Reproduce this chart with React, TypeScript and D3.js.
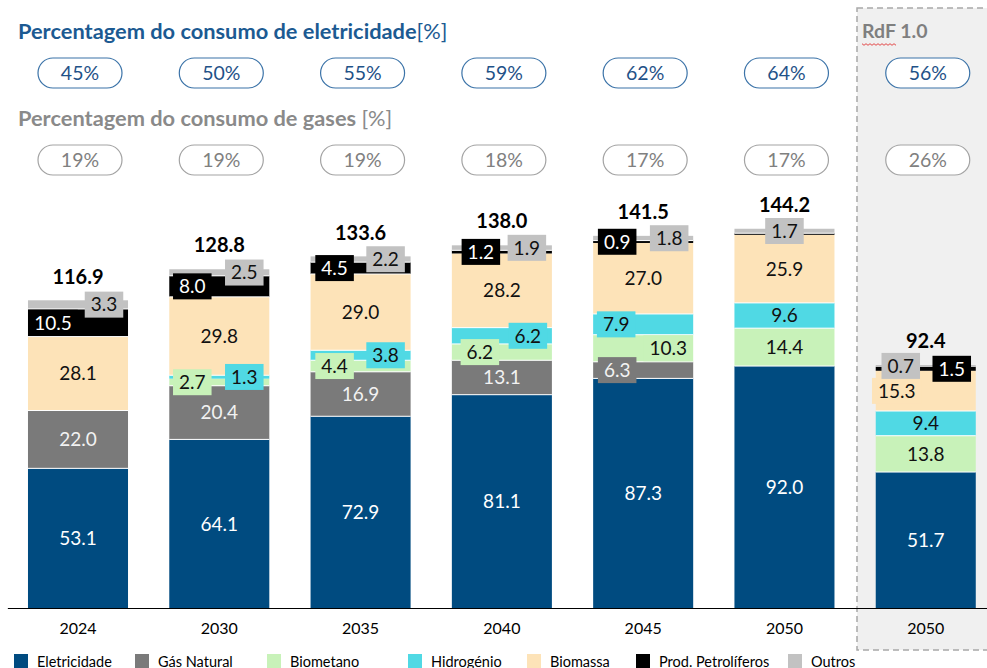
import React, { useEffect, useRef } from 'react';
import * as d3 from 'd3';

// categories (last one is the RdF 1.0 reference column)
const years = ['2024', '2030', '2035', '2040', '2045', '2050', '2050'];
const keys = ['Eletricidade', 'Gás Natural', 'Biometano', 'Hidrogénio', 'Biomassa', 'Prod. Petrolíferos', 'Outros'];

const eletricidade = [53.1, 64.1, 72.9, 81.1, 87.3, 92.0, 51.7];
const gasNatural = [22.0, 20.4, 16.9, 13.1, 6.3, 0, 0];
const biometano = [0, 2.7, 4.4, 6.2, 10.3, 14.4, 13.8];
const hidrogenio = [0, 1.3, 3.8, 6.2, 7.9, 9.6, 9.4];
const biomassa = [28.1, 29.8, 29.0, 28.2, 27.0, 25.9, 15.3];
const petroliferos = [10.5, 8.0, 4.5, 1.2, 0.9, 0.6, 1.5];
const outros = [3.3, 2.5, 2.2, 1.9, 1.8, 1.7, 0.7];
const totals = [116.9, 128.8, 133.6, 138.0, 141.5, 144.2, 92.4];

const elecShare = ['45%', '50%', '55%', '59%', '62%', '64%', '56%'];
const gasShare = ['19%', '19%', '19%', '18%', '17%', '17%', '26%'];

const colors = ['#004b80', '#7a7a7a', '#c8f2b9', '#50d9e4', '#fde3b8', '#000000', '#c2c2c2'];
const darkText = ['Eletricidade', 'Gás Natural', 'Prod. Petrolíferos'];

// label offsets for the small segments (boxed labels), keyed "category-series"
const boxed: Record<string, number> = {
  '0-5': -25, '0-6': 26,
  '1-5': -27, '1-6': 25, '1-2': -27, '1-3': 25,
  '2-5': -26, '2-6': 25, '2-2': -26, '2-3': 25,
  '3-5': -21, '3-6': 25, '3-2': -22, '3-3': 26,
  '4-5': -26, '4-6': 26, '4-3': -27, '4-2': 25, '4-1': -26,
  '5-6': 0,
  '6-6': -25, '6-5': 26, '6-4': -29,
};
const hidden = ['5-5'];

const legendX = [14, 135, 267, 408, 527, 636, 788];

const App = () => {
  const svgRef = useRef<SVGSVGElement>(null);
  const width = 987, height = 668;

  useEffect(() => {
    const svg = d3.select(svgRef.current);
    svg.selectAll('*').remove();
    svg.attr('font-family', 'Lato, "Open Sans", sans-serif');

    const idx = d3.range(years.length);
    const x = d3.scaleBand<number>().domain(idx).range([7.35, 996.4]).paddingInner(0.292).paddingOuter(0.146);
    const y = d3.scaleLinear().domain([0, 150]).range([608, 213.5]);

    // RdF panel
    svg.append('rect')
      .attr('x', 857).attr('y', 8).attr('width', 145).attr('height', 642)
      .attr('fill', '#f0f0f0').attr('stroke', '#a8a8a8')
      .attr('stroke-width', 1.5).attr('stroke-dasharray', '6,4');
    svg.append('text').attr('x', 862).attr('y', 38)
      .attr('font-size', 19.5).attr('font-weight', 'bold').attr('fill', '#7f7f7f')
      .text('RdF 1.0');
    const zig = d3.range(0, 18).map(k => [862 + k * 2, 44 + (k % 2 ? 1.3 : -0.3)] as [number, number]);
    svg.append('path').attr('d', d3.line()(zig)).attr('fill', 'none').attr('stroke', '#e02020').attr('stroke-width', 0.8);

    // titles
    const t1 = svg.append('text').attr('x', 18).attr('y', 39).attr('font-size', 21.8).attr('fill', '#1c5a92');
    t1.append('tspan').attr('font-weight', 'bold').text('Percentagem do consumo de eletricidade');
    t1.append('tspan').text('[%]');
    const t2 = svg.append('text').attr('x', 18).attr('y', 126).attr('font-size', 21.8).attr('fill', '#8a8a8a');
    t2.append('tspan').attr('font-weight', 'bold').text('Percentagem do consumo de gases ');
    t2.append('tspan').text('[%]');

    // pills
    const pills = (vals: string[], cy: number, stroke: string, fill: string) => {
      const g = svg.append('g').selectAll('g').data(vals).join('g')
        .attr('transform', (_, i) => `translate(${x(i)! + x.bandwidth() / 2 + 2},${cy})`);
      g.append('rect').attr('x', -42).attr('y', -15).attr('width', 84).attr('height', 30).attr('rx', 15)
        .attr('fill', 'white').attr('stroke', stroke).attr('stroke-width', 1.2);
      g.append('text').attr('text-anchor', 'middle').attr('dy', '0.36em').attr('font-size', 19.5)
        .attr('fill', fill).text(d => d);
    };
    pills(elecShare, 73, '#3b73a8', '#1f5288');
    pills(gasShare, 160, '#a3a3a3', '#808080');

    // stacked bars
    const table = idx.map(i => ({
      'Eletricidade': eletricidade[i], 'Gás Natural': gasNatural[i], 'Biometano': biometano[i],
      'Hidrogénio': hidrogenio[i], 'Biomassa': biomassa[i], 'Prod. Petrolíferos': petroliferos[i], 'Outros': outros[i],
    }));
    const series = d3.stack<any>().keys(keys)(table);

    const bars = svg.append('g');
    series.forEach((s, si) => {
      bars.append('g').attr('fill', colors[si])
        .selectAll('rect').data(s.map((d, i) => ({ d, i })).filter(o => o.d[1] - o.d[0] > 0)).join('rect')
        .attr('x', o => x(o.i)!)
        .attr('width', x.bandwidth())
        .attr('y', o => y(o.d[1]))
        .attr('height', o => y(o.d[0]) - y(o.d[1]));
    });
    // white separators between segments
    series.forEach((s, si) => {
      if (si === 0) return;
      bars.append('g').selectAll('line')
        .data(s.map((d, i) => ({ d, i })).filter(o => y(o.d[0]) - y(o.d[1]) > 4 && o.d[0] > 0)).join('line')
        .attr('x1', o => x(o.i)!).attr('x2', o => x(o.i)! + x.bandwidth())
        .attr('y1', o => y(o.d[0])).attr('y2', o => y(o.d[0]))
        .attr('stroke', 'white').attr('stroke-width', 1);
    });

    // segment labels
    const labels = svg.append('g').attr('font-size', 19);
    series.forEach((s, si) => {
      s.forEach((d, i) => {
        const v = d[1] - d[0];
        const k = `${i}-${si}`;
        if (v <= 0 || hidden.includes(k)) return;
        const cx = x(i)! + x.bandwidth() / 2 + (boxed[k] ?? 0);
        const cy = (y(d[0]) + y(d[1])) / 2;
        const g = labels.append('g').attr('transform', `translate(${cx},${cy})`);
        const txt = g.append('text').attr('text-anchor', 'middle').attr('dy', '0.36em')
          .attr('fill', darkText.includes(keys[si]) ? (si === 1 ? '#f2f2f2' : '#ffffff') : '#111')
          .text(v.toFixed(1));
        if (k in boxed) {
          const w = (txt.node() as SVGTextElement).getComputedTextLength() + 12;
          g.insert('rect', 'text').attr('x', -w / 2).attr('y', -13).attr('width', w).attr('height', 26)
            .attr('fill', colors[si]);
        }
      });
    });

    // totals
    svg.append('g').selectAll('text').data(totals).join('text')
      .attr('x', (_, i) => x(i)! + x.bandwidth() / 2)
      .attr('y', d => y(d) - 17)
      .attr('text-anchor', 'middle').attr('font-size', 20).attr('font-weight', 'bold').attr('fill', '#000')
      .text(d => d.toFixed(1));

    // x axis
    const axis = svg.append('g').attr('transform', 'translate(0,608)')
      .call(d3.axisBottom(x).tickSize(0).tickSizeOuter(0).tickPadding(15).tickFormat(i => years[i as number]));
    axis.select('.domain').attr('stroke', '#000').attr('stroke-width', 1.2);
    axis.selectAll('text').attr('font-size', 16).attr('fill', '#000').attr('font-family', 'Lato, sans-serif');

    // legend
    const leg = svg.append('g').selectAll('g').data(keys).join('g')
      .attr('transform', (_, i) => `translate(${legendX[i]},654)`);
    leg.append('rect').attr('width', 14).attr('height', 14).attr('fill', (_, i) => colors[i]);
    leg.append('text').attr('x', 23).attr('y', 12.5).attr('font-size', 14.5).attr('fill', '#000').text(d => d);
  }, []);

  return (
    <div style={{ position: 'fixed', left: 0, top: 0 }}>
      <svg ref={svgRef} width={width} height={height} style={{ display: 'block', background: 'white' }} />
    </div>
  );
};

export default App;
